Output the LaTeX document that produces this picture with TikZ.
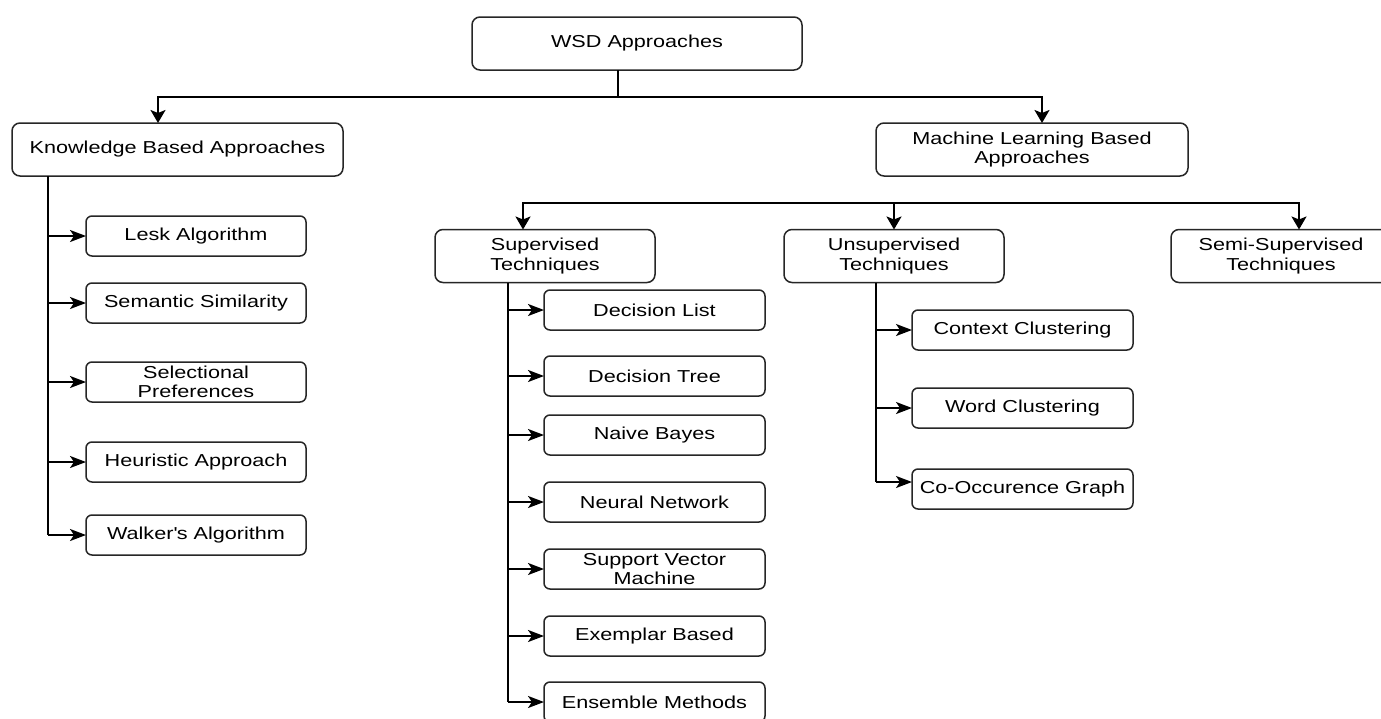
\documentclass[tikz,border=0pt]{standalone}
\usepackage{fontspec}
\setmainfont[FakeStretch=1.25]{Liberation Sans}
\usetikzlibrary{arrows.meta}
\newcommand\wsdfont{\fontsize{17.3}{19.5}\selectfont}
\newcommand\squote{\XeTeXglyph\XeTeXcharglyph"0027\relax}

\begin{document}
\begin{tikzpicture}[x=1pt,y=-1pt,
  box/.style={draw=black!85,line width=1.5pt,rounded corners=8pt,minimum height=53pt,
    align=center,inner sep=0pt,outer sep=0pt,text=black,font=\wsdfont},
  leaf/.style={box,rounded corners=6pt,minimum height=40pt,minimum width=221pt},
  link/.style={draw=black,line width=2pt},
  toR/.style={link,-{Stealth[length=16pt,width=12pt,inset=4pt]}},
  toD/.style={link,-{Stealth[length=13pt,width=15pt,inset=3pt]}}]
\useasboundingbox[fill=white] (0,0) rectangle (1381,718);

% top levels
\node[box,minimum width=330pt] (wsd) at (637,43.5) {WSD Approaches};
\node[box,minimum width=331pt] (kba) at (177.5,149.5) {Knowledge Based Approaches};
\node[box,minimum width=312pt] (mlb) at (1032,149.5) {Machine Learning Based\\Approaches};
\node[box,minimum width=220pt] (sup) at (545,256) {Supervised\\Techniques};
\node[box,minimum width=220pt] (uns) at (894,256) {Unsupervised\\Techniques};
\node[box,minimum width=220pt] (semi) at (1281,256) {Semi-Supervised\\Techniques};

% knowledge based
\node[leaf,minimum width=220pt] (lesk) at (196,236) {Lesk Algorithm};
\node[leaf,minimum width=220pt] (sem) at (196,303) {Semantic Similarity};
\node[leaf,minimum width=220pt] (sel) at (196,382) {Selectional\\Preferences};
\node[leaf,minimum width=220pt] (heu) at (196,462) {Heuristic Approach};
\node[leaf,minimum width=220pt] (walk) at (196,535) {Walker\squote s Algorithm};

% supervised
\node[leaf] (dl) at (654.5,310) {Decision List};
\node[leaf] (dt) at (654.5,376) {Decision Tree};
\node[leaf] (nb) at (654.5,435) {Naive Bayes};
\node[leaf] (nn) at (654.5,502) {Neural Network};
\node[leaf] (svm) at (654.5,569) {Support Vector\\Machine};
\node[leaf] (exb) at (654.5,636) {Exemplar Based};
\node[leaf] (ens) at (654.5,702) {Ensemble Methods};

% unsupervised
\node[leaf] (cc) at (1022.5,330) {Context Clustering};
\node[leaf] (wc) at (1022.5,408) {Word Clustering};
\node[leaf] (co) at (1022.5,489) {Co-Occurence Graph};

% first split
\coordinate (wb) at (618,97);
\draw[link] (wsd.south -| wb) -- (wb);
\draw[toD] (wb) -| ([xshift=-19.5pt]kba.north);
\draw[toD] (wb) -| ([xshift=10pt]mlb.north);

% second split
\coordinate (mb) at (894,203);
\draw[toD] (mb) -| ([xshift=-22pt]sup.north);
\draw[toD] (mb) -- (uns.north);
\draw[toD] (mb) -| ([xshift=18pt]semi.north);

% spines
\coordinate (ks) at ([xshift=36pt]kba.south west);
\draw[link] (ks) -- (ks |- walk.west);
\foreach \n in {lesk,sem,sel,heu,walk}
  \draw[toR] (ks |- \n.west) -- (\n.west);

\coordinate (ss) at ([xshift=73pt]sup.south west);
\draw[link] (ss) -- (ss |- ens.west);
\foreach \n in {dl,dt,nb,nn,svm,exb,ens}
  \draw[toR] (ss |- \n.west) -- (\n.west);

\coordinate (us) at ([xshift=92pt]uns.south west);
\coordinate (coin) at ([yshift=7pt]co.west);
\draw[link] (us) -- (us |- coin);
\foreach \n in {cc,wc}
  \draw[toR] (us |- \n.west) -- (\n.west);
\draw[toR] (us |- coin) -- (coin);
\end{tikzpicture}
\end{document}
